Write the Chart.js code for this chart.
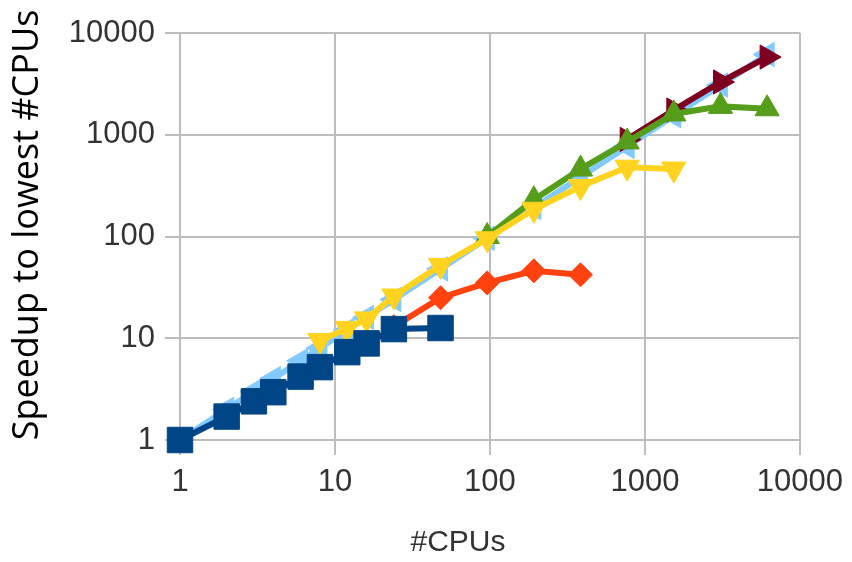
<!DOCTYPE html>
<html>
<head>
<meta charset="utf-8">
<script src="https://cdn.jsdelivr.net/npm/chart.js@4/dist/chart.umd.min.js"></script>
<style>
  html, body { margin: 0; padding: 0; background: #fff; }
  #wrap { width: 852px; height: 562px; }
</style>
</head>
<body>
<div id="wrap"><canvas id="c" width="852" height="562"></canvas></div>
<script>
// Axis ticks (log decades)
const xTicks = [1, 10, 100, 1000, 10000];
const yTicks = [1, 10, 100, 1000, 10000];

// Run 1
const cpus1 = [1, 2, 3, 4, 6, 8, 12, 16, 24, 48];
const speed1 = [1, 1.7, 2.4, 2.95, 4.2, 5.2, 7.3, 8.9, 12.3, 12.6];
// Run 2
const cpus2 = [24, 48, 96, 192, 384];
const speed2 = [13, 25, 35, 46, 42];
// Run 3
const cpus3 = [8, 12, 16, 24, 48, 96, 192, 384, 768, 1536];
const speed3 = [9.5, 12.5, 15.5, 26, 52, 95, 185, 310, 480, 460];
// Run 4
const cpus4 = [96, 192, 384, 768, 1536, 3072, 6144];
const speed4 = [100, 230, 460, 850, 1600, 1900, 1800];
// Run 5
const cpus5 = [768, 1536, 3072, 6144];
const speed5 = [900, 1750, 3300, 5800];
// Ideal speedup
const cpusIdeal = [1, 2, 3, 4, 6, 8, 12, 16, 24, 48, 96, 192, 384, 768, 1536, 3072, 6144];
const speedIdeal = [1, 2, 3, 4, 6, 8, 12, 16, 24, 48, 96, 192, 384, 768, 1536, 3072, 6144];

const xTitle = '#CPUs';
const yTitle = 'Speedup to lowest #CPUs';

const pts = (xs, ys) => xs.map((x, i) => ({ x: x, y: ys[i] }));

function series(xs, ys, color, style, radius, rotation) {
  return {
    data: pts(xs, ys),
    showLine: true,
    clip: false,
    borderColor: color,
    backgroundColor: color,
    borderWidth: 6,
    pointStyle: style,
    pointRadius: radius,
    pointHoverRadius: radius,
    pointBorderWidth: 1,
    pointRotation: rotation || 0,
    tension: 0
  };
}

const gridColor = '#bdbdbd';
const tickFont = { family: '"Liberation Sans", Arial, sans-serif', size: 31 };

// Rotated and horizontal axis titles
const axisTitles = {
  id: 'axisTitles',
  afterDraw(chart) {
    const ctx = chart.ctx;
    ctx.save();
    ctx.fillStyle = '#000';
    ctx.textAlign = 'center';
    ctx.textBaseline = 'middle';
    ctx.font = '36px "Open Sans", "Noto Sans", sans-serif';
    ctx.translate(28, 225);
    ctx.rotate(-Math.PI / 2);
    ctx.fillText(yTitle, 0, 0);
    ctx.restore();

    ctx.save();
    ctx.fillStyle = '#333';
    ctx.textAlign = 'center';
    ctx.textBaseline = 'middle';
    ctx.font = '30px "Liberation Sans", Arial, sans-serif';
    ctx.fillText(xTitle, 458, 543);
    ctx.restore();
  }
};

function logScale(ticks, pos, size) {
  return {
    type: 'logarithmic',
    position: pos,
    min: 1,
    max: 10000,
    afterBuildTicks: s => { s.ticks = ticks.map(v => ({ value: v })); },
    afterFit: s => { if (pos === 'left') s.width = size; else s.height = size; },
    ticks: {
      font: tickFont,
      color: '#333',
      padding: pos === 'left' ? 10 : 9,
      maxRotation: 0,
      autoSkip: false,
      callback: v => String(v)
    },
    grid: { color: gridColor, lineWidth: 2, tickLength: 15 },
    border: { color: gridColor, width: 2 }
  };
}

new Chart(document.getElementById('c'), {
  type: 'scatter',
  data: {
    datasets: [
      series(cpus1, speed1, '#004586', 'rect', 18),
      series(cpus2, speed2, '#ff420e', 'rectRot', 12),
      series(cpus3, speed3, '#ffd320', 'triangle', 14, 180),
      series(cpus4, speed4, '#579d1c', 'triangle', 14, 0),
      series(cpus5, speed5, '#7e0021', 'triangle', 14, 90),
      series(cpusIdeal, speedIdeal, '#83caff', 'triangle', 14, 270)
    ]
  },
  options: {
    responsive: false,
    animation: false,
    devicePixelRatio: 1,
    layout: { padding: { top: 33, right: 47, left: 0, bottom: 0 } },
    plugins: { legend: { display: false }, tooltip: { enabled: false } },
    scales: {
      x: logScale(xTicks, 'bottom', 122),
      y: logScale(yTicks, 'left', 180)
    }
  },
  plugins: [axisTitles]
});
</script>
</body>
</html>
